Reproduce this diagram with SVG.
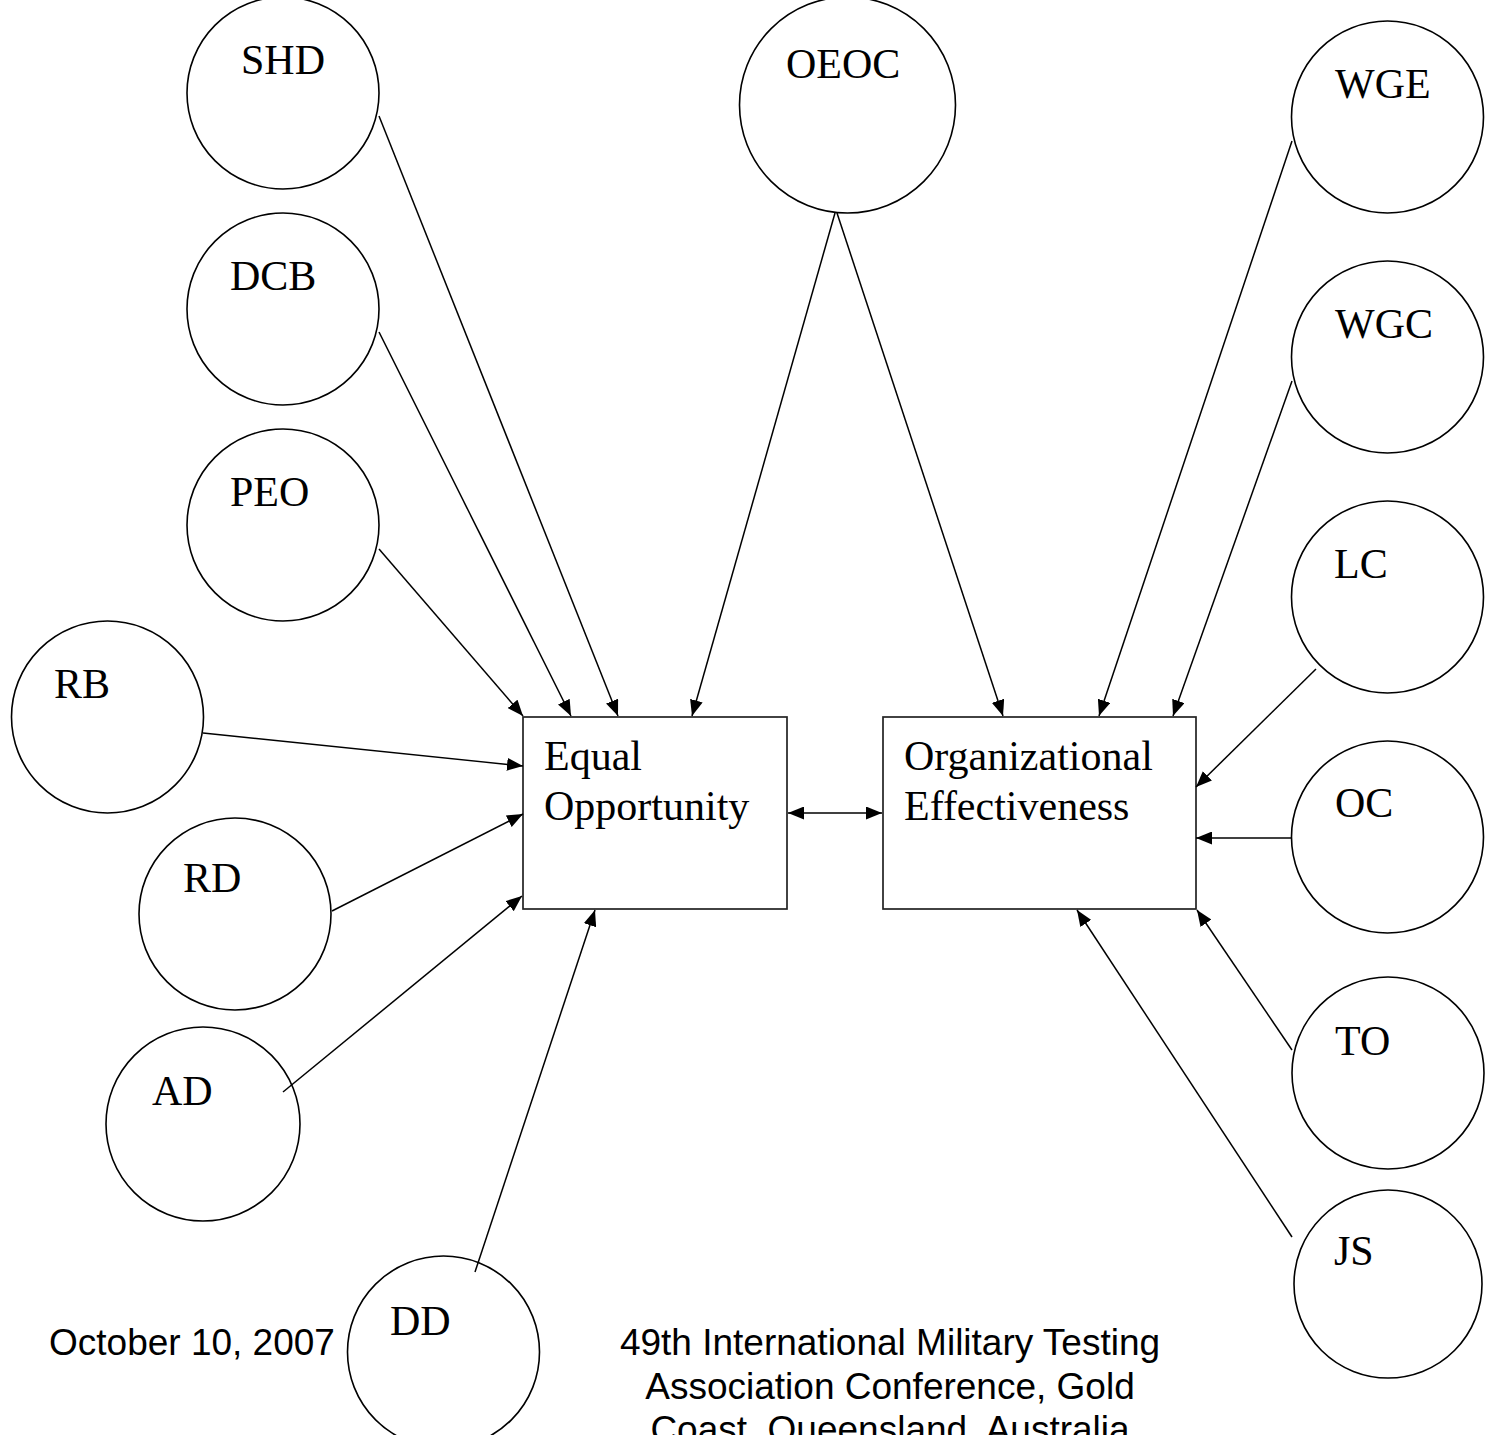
<svg xmlns="http://www.w3.org/2000/svg" width="1485" height="1435" viewBox="0 0 1485 1435">
<style>
.node circle{fill:#fff;stroke:#000;stroke-width:1.6}
.box rect{fill:#fff;stroke:#222;stroke-width:1.7}
.lbl{font-family:"Liberation Serif","Times New Roman",serif;font-size:42px;fill:#000}
.foot{font-family:"Liberation Sans",Arial,sans-serif;font-size:37px;fill:#000}
#connectors line{stroke:#000;stroke-width:1.5;fill:none;marker-end:url(#ah)}
</style>
<defs>
<marker id="ah" markerUnits="userSpaceOnUse" markerWidth="17" markerHeight="13" refX="16" refY="6.5" orient="auto-start-reverse">
<path d="M0,0 L16,6.5 L0,13 z" fill="#000"/>
</marker>
</defs>
<rect width="1485" height="1435" fill="#fff"/>

<g id="node-SHD" class="node"><circle cx="283" cy="93" r="96"/><text class="lbl" x="241" y="74">SHD</text></g>
<g id="node-DCB" class="node"><circle cx="283" cy="309" r="96"/><text class="lbl" x="230" y="290">DCB</text></g>
<g id="node-PEO" class="node"><circle cx="283" cy="525" r="96"/><text class="lbl" x="230" y="506">PEO</text></g>
<g id="node-RB" class="node"><circle cx="107.5" cy="717" r="96"/><text class="lbl" x="54" y="698">RB</text></g>
<g id="node-RD" class="node"><circle cx="235" cy="914" r="96"/><text class="lbl" x="183" y="892">RD</text></g>
<g id="node-AD" class="node"><circle cx="203" cy="1124" r="97"/><text class="lbl" x="152" y="1105">AD</text></g>
<g id="node-DD" class="node"><circle cx="443.5" cy="1352" r="96"/><text class="lbl" x="390" y="1335">DD</text></g>
<g id="node-OEOC" class="node"><circle cx="847.5" cy="105" r="108"/><text class="lbl" x="786" y="78">OEOC</text></g>
<g id="node-WGE" class="node"><circle cx="1387.5" cy="117" r="96"/><text class="lbl" x="1335" y="98">WGE</text></g>
<g id="node-WGC" class="node"><circle cx="1387.5" cy="357" r="96"/><text class="lbl" x="1335" y="338">WGC</text></g>
<g id="node-LC" class="node"><circle cx="1387.5" cy="597" r="96"/><text class="lbl" x="1334" y="578">LC</text></g>
<g id="node-OC" class="node"><circle cx="1387.5" cy="837" r="96"/><text class="lbl" x="1335" y="817">OC</text></g>
<g id="node-TO" class="node"><circle cx="1388" cy="1073" r="96"/><text class="lbl" x="1335" y="1055">TO</text></g>
<g id="node-JS" class="node"><circle cx="1388" cy="1284" r="94"/><text class="lbl" x="1334" y="1265">JS</text></g>

<g id="node-EO" class="box"><rect x="523" y="717" width="264" height="192"/><text class="lbl" x="544" y="770">Equal</text><text class="lbl" x="544" y="820">Opportunity</text></g>
<g id="node-OE" class="box"><rect x="883" y="717" width="313" height="192"/><text class="lbl" x="904" y="770">Organizational</text><text class="lbl" x="904" y="820">Effectiveness</text></g>

<g id="connectors">
<line x1="379" y1="116" x2="618" y2="716"/>
<line x1="379" y1="332" x2="571" y2="716"/>
<line x1="379" y1="549" x2="523" y2="716"/>
<line x1="203" y1="733" x2="523" y2="766"/>
<line x1="332" y1="911" x2="523" y2="814"/>
<line x1="283" y1="1092" x2="522" y2="896"/>
<line x1="475" y1="1272" x2="595" y2="910"/>
<line x1="835" y1="213" x2="692" y2="716"/>
<line x1="837" y1="213" x2="1003" y2="716"/>
<line x1="1292" y1="141" x2="1099" y2="716"/>
<line x1="1292" y1="381" x2="1173" y2="716"/>
<line x1="1316" y1="669" x2="1196" y2="787"/>
<line x1="1291" y1="838" x2="1196" y2="838"/>
<line x1="1292" y1="1050" x2="1197" y2="910"/>
<line x1="1292" y1="1237" x2="1077" y2="910"/>
<line x1="788" y1="813" x2="882" y2="813" style="marker-start:url(#ah)"/>
</g>

<g id="footer">
<text class="foot" x="49" y="1355">October 10, 2007</text>
<text class="foot" x="890" y="1355" text-anchor="middle">49th International Military Testing</text>
<text class="foot" x="890" y="1398.5" text-anchor="middle">Association Conference, Gold</text>
<text class="foot" x="890" y="1442" text-anchor="middle">Coast, Queensland, Australia</text>
</g>
</svg>
